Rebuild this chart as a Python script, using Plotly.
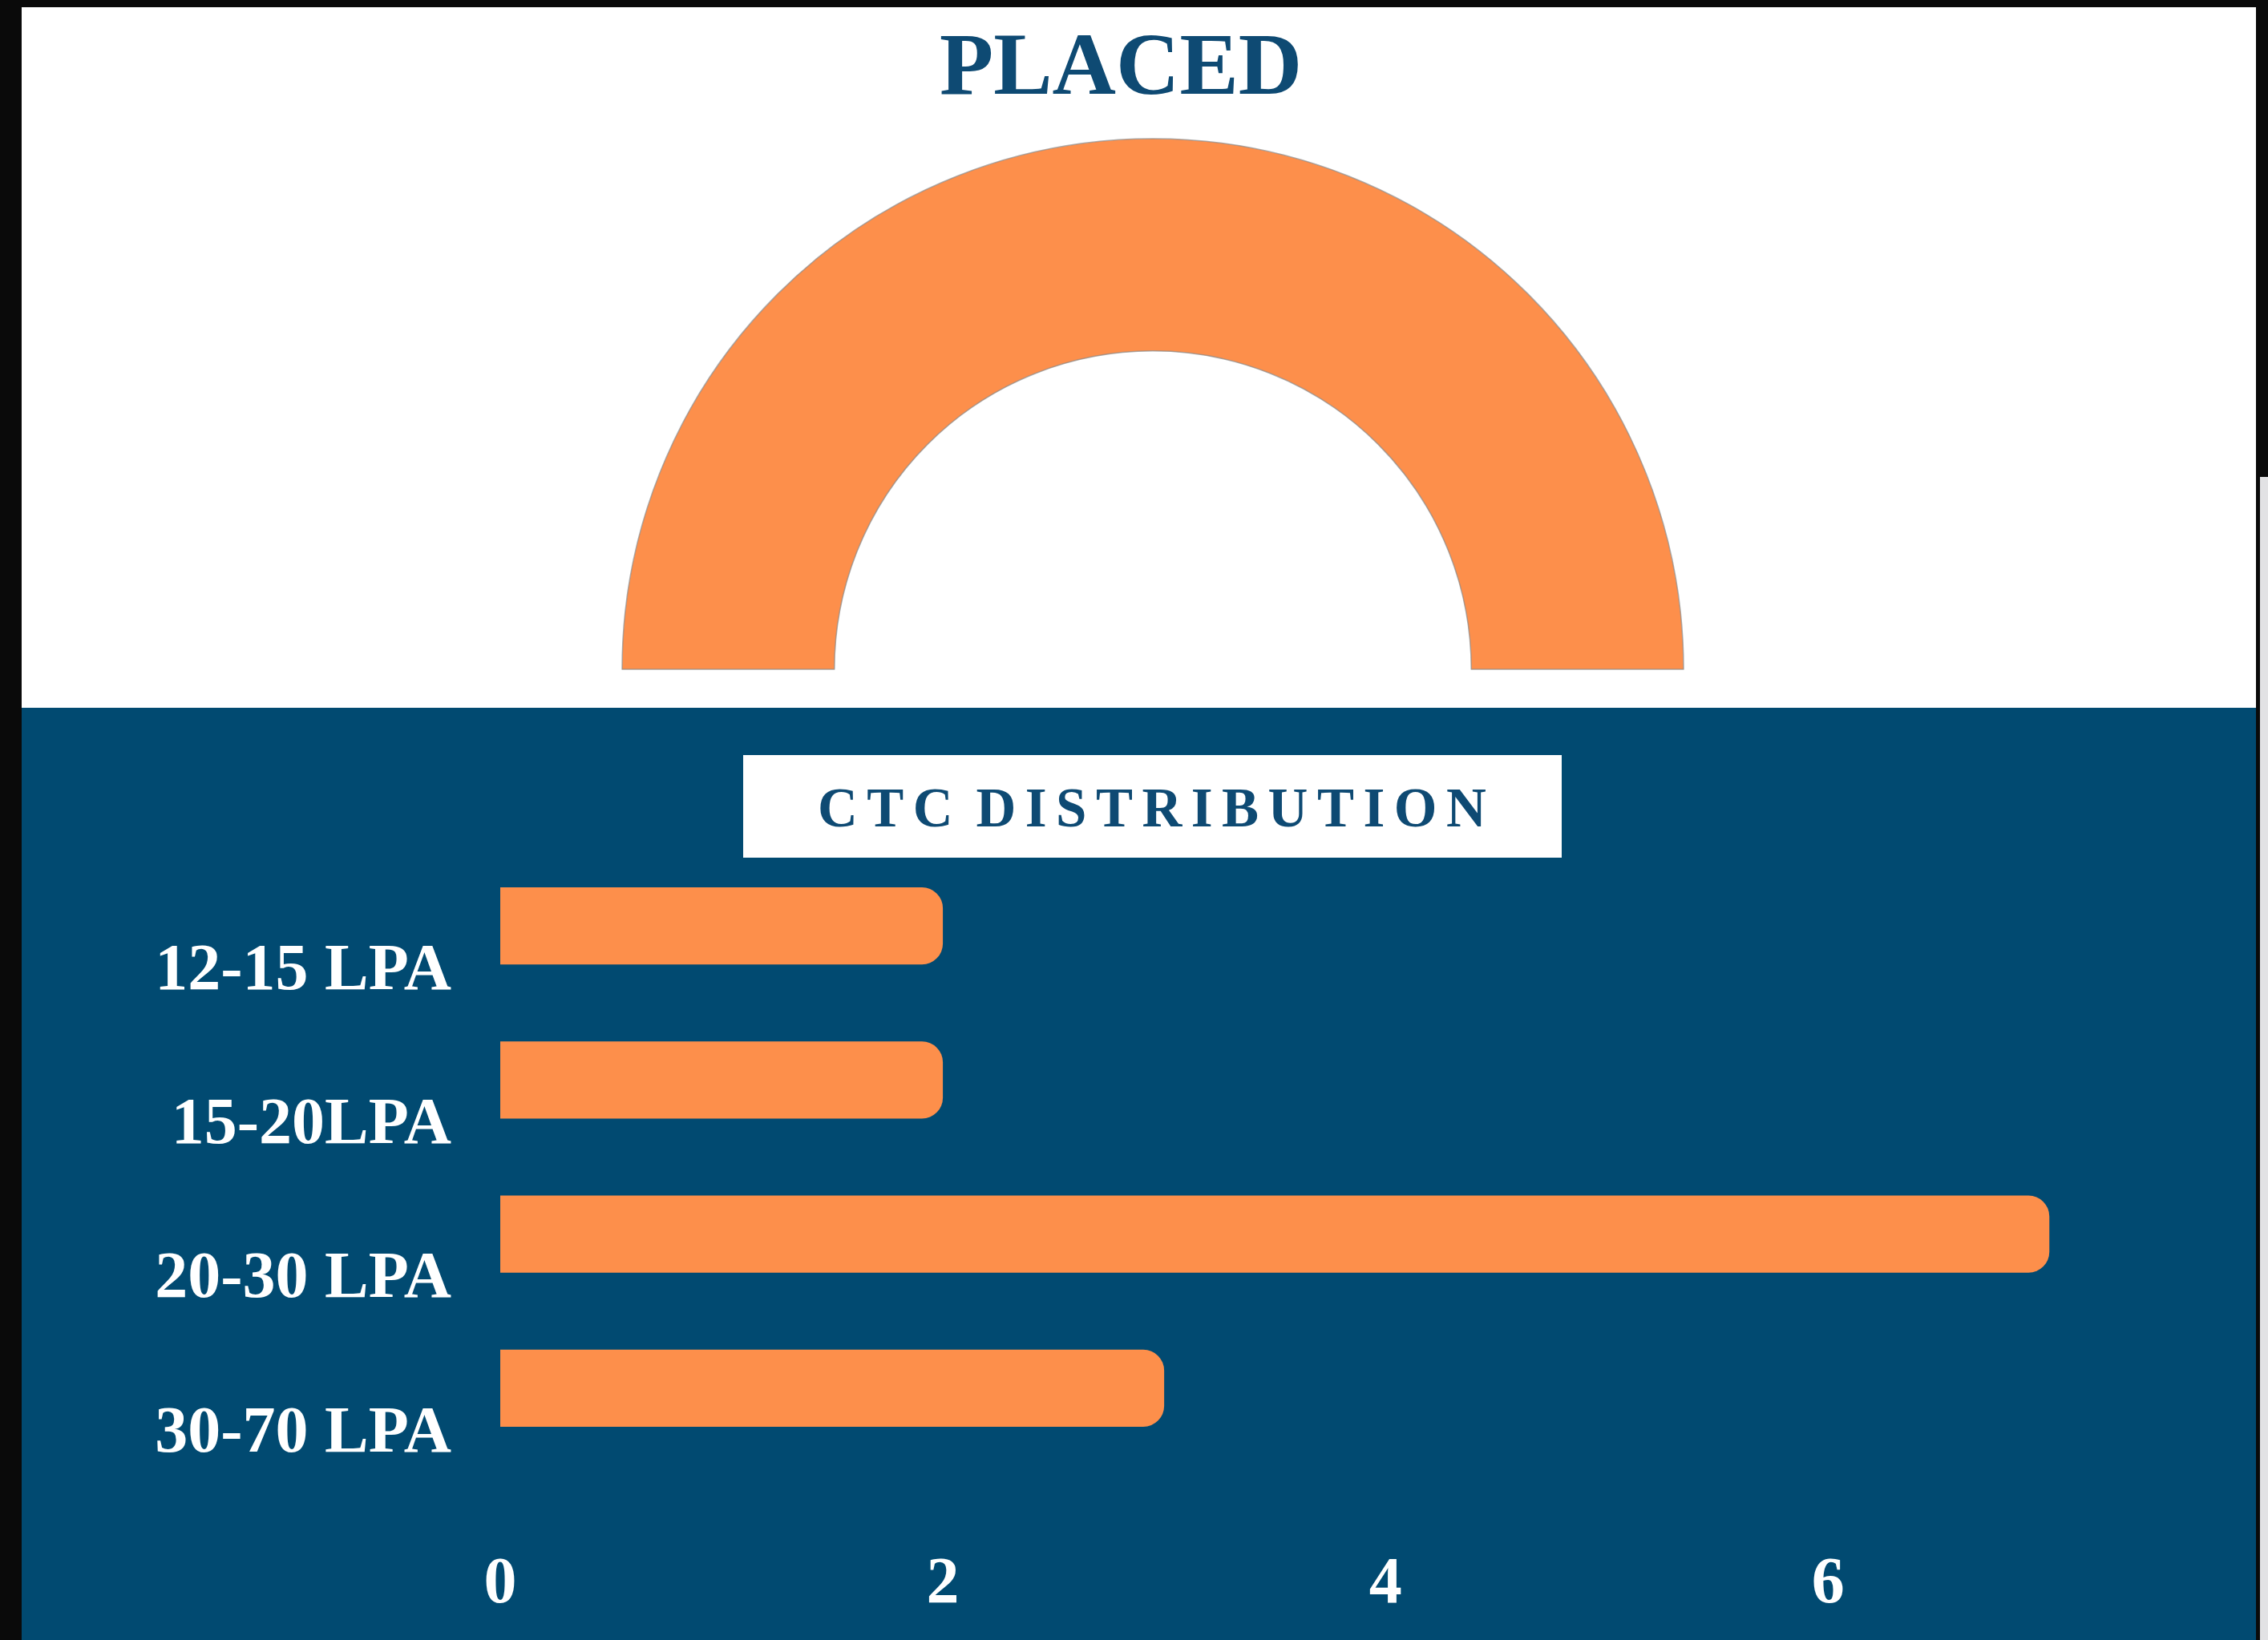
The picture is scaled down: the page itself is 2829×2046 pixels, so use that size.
import plotly.graph_objects as go

# ---- data ----
ctc_bands = ["12-15 LPA", "15-20LPA", "20-30 LPA", "30-70 LPA"]
ctc_counts = [2, 2, 7, 3]
placed_total = sum(ctc_counts)
x_ticks = [0, 2, 4, 6]

# ---- style ----
W, H = 2829, 2046
ORANGE = "#FD8F4B"
NAVY = "#014A71"
TITLE_NAVY = "#0E4A73"
SERIF = "Liberation Serif"

def px(x):
    return x / W

def py(y_from_top):
    return 1 - y_from_top / H

R = 662
CX, CY = 1438, 835

fig = go.Figure()

# Semicircle donut: visible half = placed, hidden half = same amount
fig.add_trace(go.Pie(
    values=[placed_total, placed_total],
    labels=["Placed", ""],
    hole=0.6,
    sort=False,
    direction="clockwise",
    rotation=-90,
    marker=dict(colors=[ORANGE, "rgba(0,0,0,0)"],
                line=dict(color=["rgba(140,140,140,0.7)", "rgba(0,0,0,0)"], width=1.5)),
    textinfo="none",
    hoverinfo="skip",
    showlegend=False,
    domain=dict(x=[px(CX - R), px(CX + R)], y=[py(CY + R), py(CY - R)]),
))

# Horizontal bars
fig.add_trace(go.Bar(
    x=ctc_counts,
    y=ctc_bands,
    orientation="h",
    marker=dict(color=ORANGE, line=dict(width=0)),
    showlegend=False,
    hoverinfo="skip",
))

SP = "\u2006"
title_text = SP.join("CTC") + SP + " " + SP.join("DISTRIBUTION")

fig.update_layout(
    width=W, height=H,
    margin=dict(l=0, r=0, t=0, b=0, pad=0),
    paper_bgcolor="#0A0A0A",
    plot_bgcolor="rgba(0,0,0,0)",
    bargap=0.5,
    barcornerradius=26,
    xaxis=dict(
        domain=[px(624), px(2813)],
        range=[0, 7.93],
        tickvals=x_ticks,
        automargin=False,
        showgrid=False, zeroline=False, showline=False,
        tickfont=dict(family=SERIF, size=82, color="white", weight="bold"),
        ticklabelstandoff=88,
        fixedrange=True,
    ),
    yaxis=dict(
        domain=[py(1828), py(1059)],
        categoryorder="array",
        categoryarray=ctc_bands[::-1],
        automargin=False,
        showgrid=False, zeroline=False, showline=False,
        tickfont=dict(family=SERIF, size=82, color="white", weight="bold"),
        ticklabelstandoff=60,
        ticklabelshift=50,
        fixedrange=True,
    ),
    shapes=[
        dict(type="rect", xref="paper", yref="paper", layer="below",
             x0=px(27), x1=px(2814), y0=py(883), y1=py(9),
             fillcolor="white", line=dict(width=0)),
        dict(type="rect", xref="paper", yref="paper", layer="below",
             x0=px(27), x1=px(2814), y0=0, y1=py(883),
             fillcolor=NAVY, line=dict(width=0)),
        dict(type="rect", xref="paper", yref="paper", layer="below",
             x0=px(2819), x1=1, y0=0, y1=py(595),
             fillcolor="#E2E2E4", line=dict(width=0)),
        dict(type="rect", xref="paper", yref="paper", layer="below",
             x0=px(927), x1=px(1948), y0=py(1070), y1=py(942),
             fillcolor="white", line=dict(width=0)),
    ],
    annotations=[
        dict(text="PLACED", xref="paper", yref="paper",
             x=px(1398), y=py(80), xanchor="center", yanchor="middle",
             showarrow=False,
             font=dict(family=SERIF, size=110, color=TITLE_NAVY, weight="bold")),
        dict(text=title_text,
             xref="paper", yref="paper",
             x=px(1437), y=py(1008), xanchor="center", yanchor="middle",
             showarrow=False,
             font=dict(family=SERIF, size=69, color=TITLE_NAVY, weight="bold")),
    ],
)

fig.write_html(
    "out.html",
    config={"displayModeBar": False},
    post_script="document.body.style.margin='0';document.body.style.overflow='hidden';",
)
